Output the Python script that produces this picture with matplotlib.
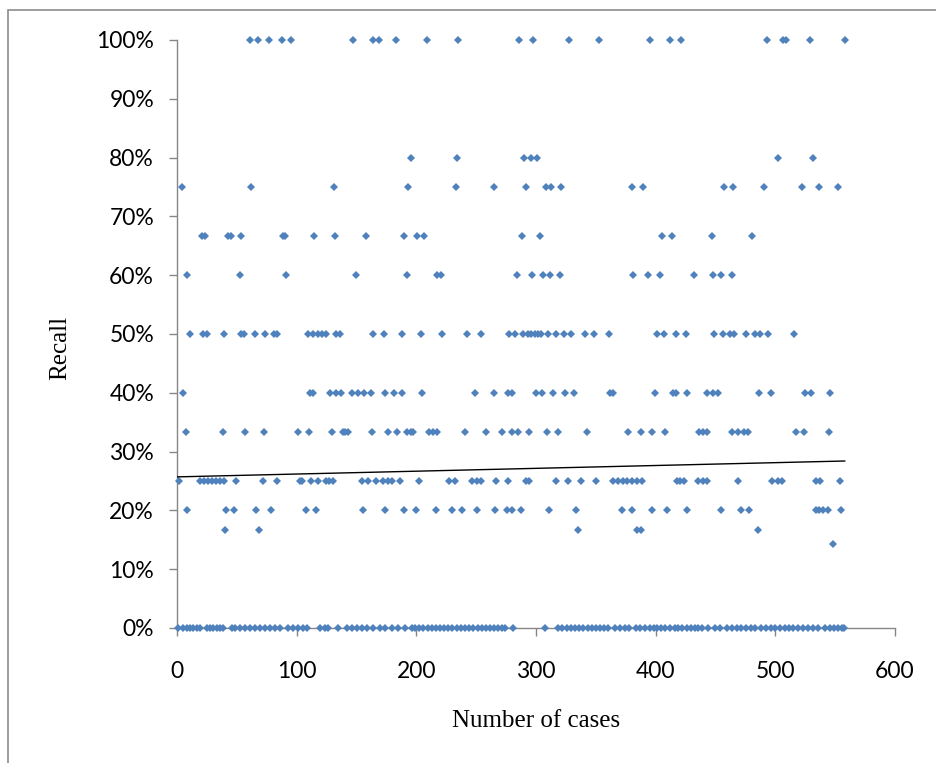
import numpy as np
import matplotlib
matplotlib.use("Agg")
import matplotlib.pyplot as plt
from matplotlib.patches import Rectangle
from matplotlib.ticker import PercentFormatter

# ---- data: (number of cases, recall) grouped by recall level ----
x_100 = [61, 67.4, 77.1, 87.5, 95.2, 147.4, 164.2, 168.4, 182.6, 208.5, 235.2, 286, 297.7,
         327.5, 352.3, 395.2, 412.2, 421.2, 492.7, 506.3, 508.8, 528.8, 558]
x_80 = [195.5, 234.2, 290.1, 295.7, 301, 502.3, 531.3]
x_75 = [4.4, 62.1, 130.9, 192.7, 233.1, 264.6, 291.3, 308.0, 312.2, 321.0, 380.1, 389.6,
        457.2, 464.7, 490.4, 522.4, 536.3, 552.5]
x_667 = [20.9, 23.4, 42.6, 45.1, 53.7, 88.6, 90.2, 114.7, 131.7, 158.1, 189.4, 200.3, 206.6,
         288, 303, 405.4, 413.8, 446.7, 480.6]
x_60 = [8.4, 52.6, 91.1, 149.5, 191.9, 217.2, 220.6, 283.8, 296.6, 306.0, 311.9, 319.9,
        381.2, 393.2, 403.5, 431.7, 447.8, 454.5, 463.9]
x_50 = [10.9, 21.7, 25.1, 39.5, 53.5, 56.2, 65.2, 73.5, 80.8, 83.5, 109.2, 113.4, 117.5, 121.4,
        124.5, 132.8, 135.9, 163.7, 173.2, 188.0, 203.6, 221.6, 242.3, 254.0, 277.4, 282.4,
        289.0, 293.2, 295.7, 299.1, 301.6, 304.1, 309.9, 316.6, 323.3, 329.2, 340.8, 348.1,
        360.9, 401.2, 407.1, 416.6, 425.2, 448.4, 456.1, 462.0, 465.6, 475.3, 482.9, 487.0,
        494.0, 515.8]
x_40 = [5.3, 111.1, 113.6, 127.8, 132.6, 137.0, 146.4, 151.5, 156.2, 162.1, 174.0, 181.0,
        188.2, 204.9, 248.9, 265.1, 276.5, 279.8, 299.7, 304.7, 313.9, 324.1, 331.9, 361.7,
        364.2, 399.3, 414.6, 417.4, 426.6, 442.5, 448.0, 451.7, 486.4, 496.0, 524.7, 530.2,
        546.1]
x_333 = [7.5, 38.7, 56.6, 72.7, 100.8, 110.3, 129.7, 138.4, 140.4, 142.6, 162.7, 176.5, 184.0,
         192.4, 195.5, 197.2, 210.5, 213.9, 217.2, 240.6, 257.9, 271.8, 280.1, 284.6, 294.3,
         309.4, 318.0, 342.3, 377.0, 388.0, 397.1, 407.7, 436.1, 439.3, 442.7, 463.5, 469.1,
         473.6, 476.9, 517.0, 524.0, 544.9]
x_25 = [1.7, 19.2, 22.6, 25.9, 29.2, 32.6, 35.9, 39.3, 49.0, 71.6, 83.8, 102.8, 104.7, 111.7,
        118.0, 124.5, 127.0, 130.3, 154.3, 159.8, 166.0, 172.3, 176.5, 179.9, 186.5, 202.2,
        227.5, 232.3, 246.2, 250.6, 254.0, 266.5, 276.8, 291.6, 294.1, 316.4, 326.4, 337.3,
        350.0, 364.5, 368.7, 372.8, 375.7, 379.9, 384.0, 388.2, 417.5, 420.2, 423.5, 435.5,
        439.4, 442.8, 468.9, 497.6, 502.1, 505.4, 534.4, 537.7, 553.9]
x_20 = [8.6, 40.9, 47.4, 66.2, 78.3, 107.8, 115.9, 155.4, 173.8, 189.4, 199.4, 216.4, 229.5,
        237.8, 250.4, 265.7, 275.4, 279.6, 287.1, 310.8, 333.1, 371.5, 379.9, 396.6, 409.1,
        426.3, 455.0, 471.7, 477.9, 533.6, 536.3, 539.9, 544.1, 554.7]
x_167 = [40.1, 68.8, 334.7, 384.3, 387.6, 485.1]
x_143 = [548.3]
x_0 = [1.1, 5.3, 8.1, 10.9, 13.6, 16.4, 19.2, 24.8, 27.6, 30.3, 33.1, 35.9, 38.7, 45.7, 48.5,
       52.6, 56.8, 61.0, 65.2, 69.3, 73.5, 77.7, 81.9, 86.0, 93.0, 97.2, 101.4, 105.5, 108.3,
       119.5, 123.6, 126.4, 134.8, 141.7, 145.9, 150.1, 154.3, 158.5, 164.0, 169.6, 173.8,
       179.3, 184.9, 190.5, 196.0, 198.8, 202.2, 205.8, 209.4, 212.7, 216.1, 219.7, 223.3,
       226.7, 230.0, 233.6, 237.3, 240.6, 243.9, 247.6, 251.2, 254.5, 257.9, 261.5, 265.1,
       268.4, 271.8, 274.0, 281.0, 307.4, 318.6, 321.9, 325.5, 329.1, 332.5, 335.8, 339.5,
       343.1, 346.4, 349.8, 353.4, 357.0, 360.3, 365.9, 370.1, 374.3, 377.6, 383.2, 386.8,
       391.0, 395.1, 398.7, 400.7, 404.3, 407.7, 411.8, 416.0, 418.8, 421.6, 425.8, 429.9,
       432.7, 435.5, 438.9, 443.9, 449.4, 453.6, 459.2, 463.4, 467.6, 471.7, 475.9, 479.5,
       482.9, 488.4, 492.6, 496.2, 500.1, 503.7, 507.9, 511.3, 514.9, 519.1, 523.2, 527.4,
       531.6, 535.7, 541.3, 545.5, 549.1, 552.5, 555.8, 557.5]

# linear trendline (many overlapping points are hidden)
trend_x = [0, 558]
trend_y = [0.257, 0.284]

groups = [(x_100, 1.0), (x_80, 0.8), (x_75, 0.75), (x_667, 2 / 3), (x_60, 0.6), (x_50, 0.5),
          (x_40, 0.4), (x_333, 1 / 3), (x_25, 0.25), (x_20, 0.2), (x_167, 1 / 6),
          (x_143, 1 / 7), (x_0, 0.0)]
xs = np.concatenate([np.asarray(g, float) for g, _ in groups])
ys = np.concatenate([np.full(len(g), v) for g, v in groups])

x_ticks = [0, 100, 200, 300, 400, 500, 600]
y_ticks = [0, 0.1, 0.2, 0.3, 0.4, 0.5, 0.6, 0.7, 0.8, 0.9, 1.0]

# ---- figure ----
W, H = 936, 763
fig = plt.figure(figsize=(W / 100, H / 100), dpi=100)
ax = fig.add_axes([177 / W, 1 - 628 / H, (895 - 177) / W, (628 - 40) / H])
ax.set_xlim(0, 600)
ax.set_ylim(0, 1)

ax.plot(xs, ys, linestyle="none", marker="D", markersize=4.4, color="#4F81BD",
        markeredgewidth=0, zorder=3, clip_on=False)

ax.plot(trend_x, trend_y, color="black", linewidth=1.0, zorder=4)

for s in ["top", "right"]:
    ax.spines[s].set_visible(False)
for s in ["left", "bottom"]:
    ax.spines[s].set_color("#868686")
    ax.spines[s].set_linewidth(1.0)

ax.set_xticks(x_ticks)
ax.set_yticks(y_ticks)
ax.yaxis.set_major_formatter(PercentFormatter(1.0, decimals=0))
ax.tick_params(axis="both", direction="out", length=5.5, width=1.0, color="#868686",
               labelsize=16.5, labelcolor="#000000")
ax.tick_params(axis="y", pad=11)
ax.tick_params(axis="x", pad=18)
for lab in ax.get_xticklabels() + ax.get_yticklabels():
    lab.set_family("Lato")

fig.text(60 / W, 1 - 348 / H, "Recall", rotation=90, ha="center", va="center",
         family="Liberation Serif", fontsize=18)
fig.text(536 / W, 1 - 721 / H, "Number of cases", ha="center", va="center",
         family="Liberation Serif", fontsize=18)

# outer chart frame
fig.patches.append(Rectangle((8 / W, -0.1), 1.2, 1 - 10 / H + 0.1, transform=fig.transFigure,
                             fill=False, edgecolor="#8c8c8c", linewidth=1.2))

fig.savefig("out.png", dpi=100)
